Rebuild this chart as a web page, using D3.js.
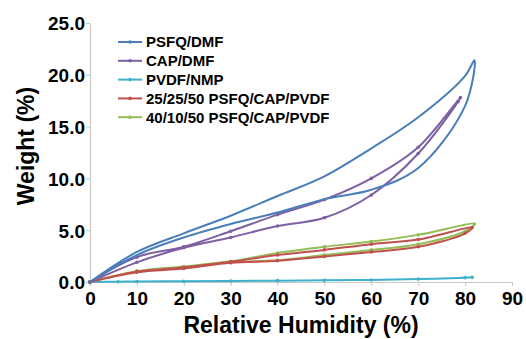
<!DOCTYPE html>
<html>
<head>
<meta charset="utf-8">
<script src="https://d3js.org/d3.v7.min.js"></script>
<style>
  body { margin: 0; background: #fff; }
  text { font-family: "Liberation Sans", Arial, sans-serif; font-weight: bold; fill: #000; }
</style>
</head>
<body>
<svg width="526" height="339"></svg>
<script>
// tick labels
var xTicks = [0, 10, 20, 30, 40, 50, 60, 70, 80, 90];
var yTicks = [0, 5, 10, 15, 20, 25];

// series names + colours (legend order)
var names = ["PSFQ/DMF", "CAP/DMF", "PVDF/NMP", "25/25/50 PSFQ/CAP/PVDF", "40/10/50 PSFQ/CAP/PVDF"];
var colors = ["#4a7ebb", "#7d5fa3", "#3eb0cc", "#c0504d", "#93bd55"];

// each loop: adsorption up to max RH, then desorption back down
var psfqRH = [0, 10, 20, 30, 40, 50, 60, 70, 80, 82, 80, 70, 60, 50, 40, 30, 20, 10, 0];
var psfqW  = [0, 2.6, 4.3, 5.6, 6.7, 8.0, 8.9, 11.0, 17.0, 21.4, 19.9, 15.9, 12.9, 10.2, 8.3, 6.4, 4.7, 2.9, 0];

var capRH = [0, 10, 20, 30, 40, 50, 60, 70, 78.5, 79, 70, 60, 50, 40, 30, 20, 10, 0];
var capW  = [0, 1.9, 3.3, 4.3, 5.4, 6.2, 8.4, 12.4, 17.4, 17.8, 13.0, 10.0, 7.95, 6.5, 4.9, 3.4, 2.4, 0];

var pvdfRH = [0, 6, 10, 20, 30, 40, 50, 60, 70, 80, 81.5];
var pvdfW  = [0, 0.03, 0.05, 0.07, 0.1, 0.13, 0.16, 0.2, 0.28, 0.42, 0.45];

var mixARH = [0, 10, 20, 30, 40, 50, 60, 70, 80, 81.5, 70, 60, 50, 40, 30, 20, 10, 0];
var mixAW  = [0, 0.95, 1.3, 1.85, 2.05, 2.45, 2.9, 3.4, 4.7, 5.25, 4.1, 3.65, 3.1, 2.6, 1.95, 1.4, 1.0, 0];

var mixBRH = [0, 10, 20, 30, 40, 50, 60, 70, 80, 82, 70, 60, 50, 40, 30, 20, 10, 0];
var mixBW  = [0, 1.05, 1.35, 1.9, 2.1, 2.6, 3.1, 3.65, 4.9, 5.6, 4.55, 3.9, 3.4, 2.8, 2.0, 1.5, 1.05, 0];

function init() {
    var svg = d3.select("svg");

    var x = d3.scaleLinear().domain([0, 90]).range([90, 512]);
    var y = d3.scaleLinear().domain([0, 25]).range([282, 23]);

    // axes
    var yAxis = svg.append("g")
        .attr("transform", "translate(90,0)")
        .call(d3.axisLeft(y).tickValues(yTicks).tickSize(4).tickSizeOuter(0).tickFormat(d3.format(".1f")));
    var xAxis = svg.append("g")
        .attr("transform", "translate(0,282)")
        .call(d3.axisBottom(x).tickValues(xTicks).tickSize(4).tickSizeOuter(0));

    [xAxis, yAxis].forEach(function(a) {
        a.select(".domain").attr("stroke", "#c8c8c8").attr("stroke-width", 1.2);
        a.selectAll(".tick line").attr("stroke", "#c8c8c8");
        a.selectAll(".tick text").style("font-size", "19px").style("font-family", "'Liberation Sans', Arial, sans-serif").style("font-weight", "bold").attr("fill", "#000");
    });
    yAxis.selectAll(".tick text").attr("x", -5).attr("dy", "0.36em");
    xAxis.selectAll(".tick text").attr("y", 6).attr("dy", "0.9em");

    // axis titles
    svg.append("text")
        .attr("x", 301).attr("y", 333)
        .attr("text-anchor", "middle")
        .style("font-size", "23px")
        .text("Relative Humidity (%)");
    svg.append("text")
        .attr("transform", "translate(34,146) rotate(-90)")
        .attr("text-anchor", "middle")
        .style("font-size", "23px")
        .text("Weight (%)");

    var series = [
        {rh: psfqRH, w: psfqW, markers: false},
        {rh: capRH, w: capW, markers: true},
        {rh: pvdfRH, w: pvdfW, markers: true},
        {rh: mixARH, w: mixAW, markers: true},
        {rh: mixBRH, w: mixBW, markers: true}
    ];

    var line = d3.line()
        .x(function(d) { return x(d[0]); })
        .y(function(d) { return y(d[1]); })
        .curve(d3.curveCatmullRom.alpha(0.5));

    // draw back to front so blue ends on top like the original
    [2, 4, 3, 1, 0].forEach(function(i) {
        var s = series[i];
        var pts = s.rh.map(function(v, j) { return [v, s.w[j]]; });
        svg.append("path")
            .datum(pts)
            .attr("d", line)
            .attr("fill", "none")
            .attr("stroke", colors[i])
            .attr("stroke-width", 2);
        if (s.markers) {
            svg.append("g").selectAll("circle")
                .data(pts)
                .enter()
                .append("circle")
                .attr("cx", function(d) { return x(d[0]); })
                .attr("cy", function(d) { return y(d[1]); })
                .attr("r", 1.8)
                .attr("fill", colors[i]);
        }
    });

    // legend
    var leg = svg.append("g");
    names.forEach(function(n, i) {
        var ly = 42 + i * 18.8;
        leg.append("line")
            .attr("x1", 118).attr("x2", 142)
            .attr("y1", ly).attr("y2", ly)
            .attr("stroke", colors[i]).attr("stroke-width", 2);
        leg.append("circle")
            .attr("cx", 130).attr("cy", ly).attr("r", 1.8)
            .attr("fill", colors[i]);
        leg.append("text")
            .attr("x", 146).attr("y", ly)
            .attr("dy", "0.36em")
            .style("font-size", "15px")
            .text(n);
    });
}
init();
</script>
</body>
</html>
